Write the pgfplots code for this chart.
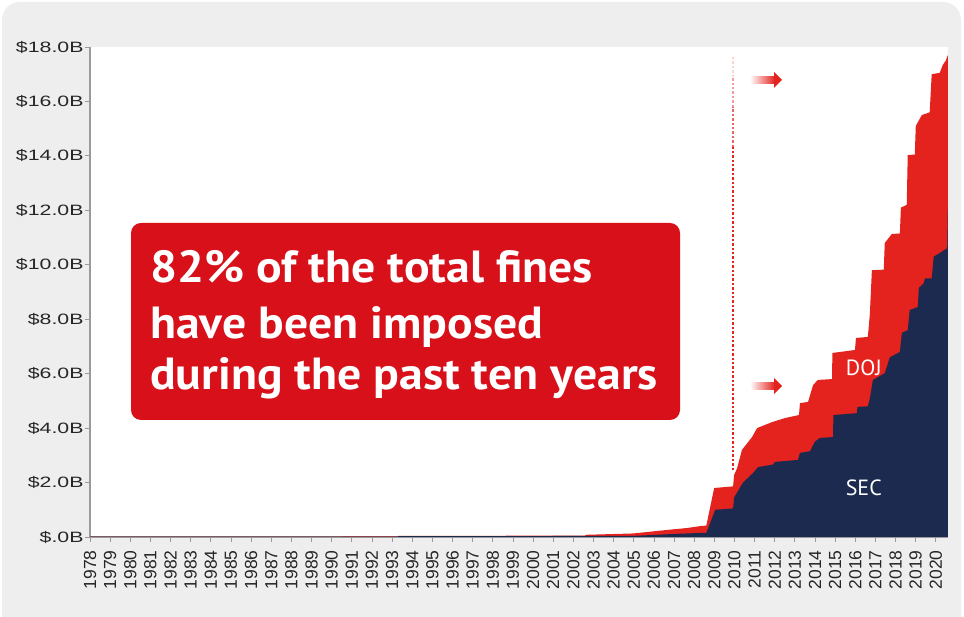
\documentclass[border=0pt]{standalone}
\usepackage{pgfplots}
\pgfplotsset{compat=1.18}
\usepackage{fontspec}
\setmainfont{Liberation Sans}
\newfontfamily\boxfont{PT Sans}
\definecolor{bggray}{HTML}{EEEEEE}
\definecolor{dojred}{HTML}{E4231F}
\definecolor{secnavy}{HTML}{1C2A4F}
\definecolor{boxred}{HTML}{D7101A}
\definecolor{axgray}{HTML}{9A9A9A}
\newcommand{\yl}[1]{\scalebox{1.42}[1]{\$#1B}}
\begin{document}
\begin{tikzpicture}[x=1bp,y=1bp]
\useasboundingbox (0,0) rectangle (964,617);
\fill[white] (0,0) rectangle (964,617);
\fill[bggray, rounded corners=18bp] (2,-30) rectangle (961,615);
\begin{axis}[
  at={(90bp,80bp)}, anchor=south west, scale only axis,
  width=858bp, height=490bp,
  xmin=1978, xmax=2020.6, ymin=0, ymax=18,
  axis x line*=bottom, axis y line*=left,
  axis line style={axgray, line width=1.5bp, -},
  axis background/.style={fill=white},
  xtick={1978,...,2020},
  ytick={0,2,...,18},
  yticklabels={\yl{.0},\yl{2.0},\yl{4.0},\yl{6.0},\yl{8.0},\yl{10.0},\yl{12.0},\yl{14.0},\yl{16.0},\yl{18.0}},
  tick align=outside, major tick length=5bp,
  tick style={axgray, line width=0.8bp},
  yticklabel style={font=\fontsize{15bp}{17bp}\selectfont, text=black!85, xshift=2bp},
  xticklabel style={rotate=90, anchor=east, font=\fontsize{17.5bp}{19bp}\selectfont, text=black!85,
    /pgf/number format/1000 sep={}, /pgf/number format/assume math mode=true},
  xticklabel shift={5bp},
  clip=false,
]
% Total (DOJ + SEC)
\addplot[fill=dojred, draw=none] coordinates {
(1978,0.01) (1993.3,0.02) (1993.3,0.04) (2002.6,0.05) (2002.6,0.08)
(2004.97,0.13) (2006.66,0.26) (2007.65,0.33) (2008.3,0.4) (2008.6,0.42) (2008.99,1.8)
(2009.93,1.86) (2009.98,2.28) (2010.13,2.53) (2010.37,3.2) (2010.87,3.67) (2011.12,4.0)
(2011.86,4.22) (2012.51,4.37) (2013.2,4.48) (2013.25,4.92) (2013.65,4.96) (2013.9,5.58)
(2014.14,5.77) (2014.84,5.8) (2014.86,6.76) (2015.98,6.87) (2016.03,7.31) (2016.62,7.35)
(2016.72,8.2) (2016.82,9.8) (2017.41,9.82) (2017.46,10.8) (2017.81,11.13) (2018.21,11.15)
(2018.26,12.1) (2018.55,12.2) (2018.6,14.03) (2018.95,14.05) (2019.0,15.1) (2019.3,15.5)
(2019.69,15.6) (2019.79,17.0) (2020.19,17.05) (2020.34,17.34) (2020.49,17.5) (2020.59,17.7)
} \closedcycle;
% SEC
\addplot[fill=secnavy, draw=none] coordinates {
(1978,0.01) (1993.3,0.015) (1993.3,0.03) (2004.97,0.04) (2006.66,0.1) (2008.3,0.15) (2008.6,0.15)
(2009.04,1.0) (2009.93,1.05) (2009.98,1.45) (2010.42,2.0) (2010.92,2.35) (2011.17,2.57)
(2011.91,2.66) (2012.01,2.76) (2013.15,2.83) (2013.25,3.09) (2013.75,3.15) (2013.99,3.5)
(2014.24,3.64) (2014.89,3.67) (2014.91,4.48) (2016.08,4.55) (2016.1,4.78) (2016.62,4.8)
(2016.72,5.1) (2016.87,5.77) (2017.46,6.02) (2017.71,6.6) (2018.21,6.8) (2018.31,7.5)
(2018.6,7.6) (2018.7,8.34) (2019.1,8.45) (2019.15,9.15) (2019.4,9.33) (2019.45,9.5)
(2019.79,9.5) (2019.89,10.3) (2020.19,10.43) (2020.49,10.58) (2020.56,10.6) (2020.59,12.1)
} \closedcycle;
\node[text=white, font=\boxfont\fontsize{22bp}{24bp}\selectfont] at (axis cs:2016.42,6.2) {DOJ};
\node[text=white, font=\boxfont\fontsize{22bp}{24bp}\selectfont] at (axis cs:2016.42,1.8) {SEC};
\end{axis}
% dotted marker line
\draw[dojred, line width=2.4bp, dash pattern=on 2.4bp off 2bp] (733,147) -- (733,470);
\draw[dojred!70, line width=2.4bp, dash pattern=on 2.4bp off 2bp] (733,470) -- (733,510);
\draw[dojred!45, line width=2.4bp, dash pattern=on 2.4bp off 2bp] (733,510) -- (733,540);
\draw[dojred!20, line width=2.4bp, dash pattern=on 2.4bp off 2bp] (733,540) -- (733,560);
% arrows
\foreach \yy in {537,231} {
  \shade[left color=white, right color=dojred] (750,\yy-3.5) rectangle (775,\yy+3.5);
  \fill[dojred] (774,\yy-8) -- (782,\yy) -- (774,\yy+8) -- cycle;
}
% annotation box
\fill[boxred, rounded corners=10bp] (131,197) rectangle (680,394);
\begin{scope}[font=\boxfont\bfseries\fontsize{45bp}{50bp}\selectfont, text=white]
\node[anchor=base west, inner sep=0] at (150,334) {\scalebox{1.06}[1]{82\% of the total fines}};
\node[anchor=base west, inner sep=0] at (150,278) {\scalebox{1.06}[1]{have been imposed}};
\node[anchor=base west, inner sep=0] at (150,227) {\scalebox{1.06}[1]{during the past ten years}};
\end{scope}
\end{tikzpicture}
\end{document}
